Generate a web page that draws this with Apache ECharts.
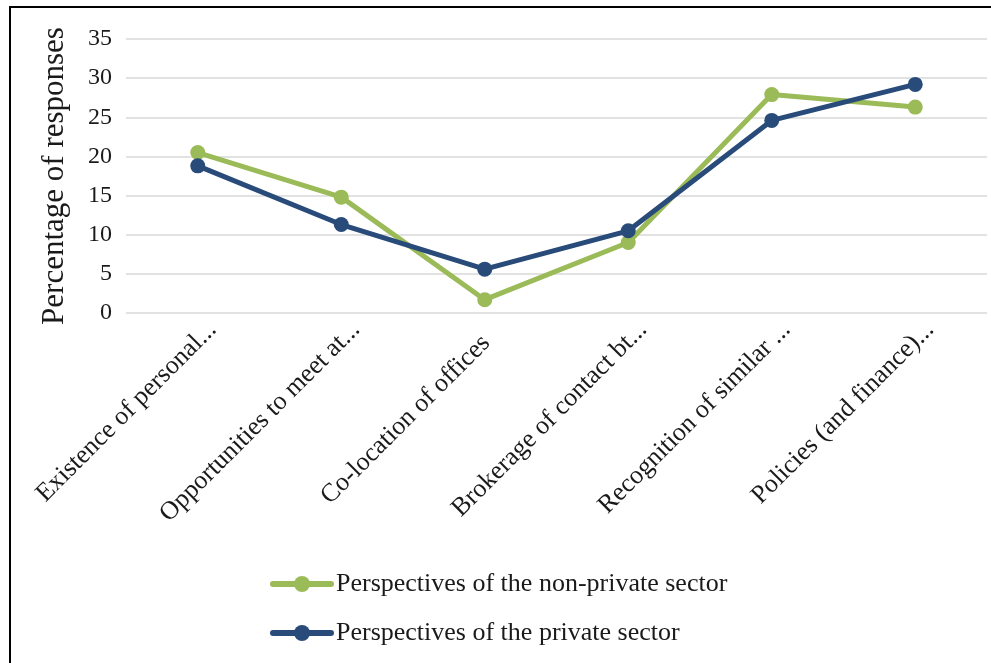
<!DOCTYPE html>
<html>
<head>
<meta charset="utf-8">
<script src="https://cdn.jsdelivr.net/npm/echarts@6/dist/echarts.min.js"></script>
<style>
html,body{margin:0;padding:0;background:#fff;}
#frame{position:absolute;left:9px;top:6px;width:1000px;height:700px;border-left:2px solid #000;border-top:2px solid #000;box-sizing:border-box;}
#chart{position:absolute;left:0;top:0;width:991px;height:663px;}
</style>
</head>
<body>
<div id="frame"></div>
<div id="chart"></div>
<script>
const categories = [
  "Existence of personal...",
  "Opportunities to meet at...",
  "Co-location of offices",
  "Brokerage of contact bt...",
  "Recognition of similar ...",
  "Policies (and finance)..."
];
const nonPrivate = [20.5, 14.8, 1.7, 9.0, 27.9, 26.3];
const privateSector = [18.8, 11.3, 5.6, 10.5, 24.6, 29.2];
const yTicks = { min: 0, max: 35, interval: 5 };
const seriesNames = ["Perspectives of the non-private sector", "Perspectives of the private sector"];

const font = "'Liberation Serif', 'Times New Roman', serif";
const chart = echarts.init(document.getElementById('chart'), null, { renderer: 'canvas' });
chart.setOption({
  backgroundColor: 'transparent',
  animation: false,
  grid: { left: 126, right: 4, top: 39, bottom: 350, containLabel: false },
  legend: {
    orient: 'vertical',
    left: 265,
    top: 564,
    itemWidth: 58,
    itemHeight: 20,
    itemGap: 19,
    lineStyle: { width: 6, cap: 'round' },
    textStyle: { fontFamily: font, fontSize: 26, color: '#1a1a1a', lineHeight: 30 },
    data: seriesNames
  },
  xAxis: {
    type: 'category',
    data: categories,
    boundaryGap: true,
    axisLine: { show: false },
    axisTick: { show: false },
    axisLabel: {
      rotate: 45, margin: -2, interval: 0,
      verticalAlign: 'top', lineHeight: 42,
      fontFamily: font, fontSize: 26, color: '#1a1a1a',
      formatter: function (v) { return /\.\.\.$/.test(v) ? v : v + '{pad|}'; },
      rich: { pad: { width: 19, lineHeight: 42 } }
    }
  },
  yAxis: {
    type: 'value',
    min: yTicks.min, max: yTicks.max, interval: yTicks.interval,
    name: 'Percentage of responses',
    nameLocation: 'middle',
    nameGap: 56,
    nameTextStyle: { fontFamily: font, fontSize: 31, color: '#1a1a1a' },
    axisLine: { show: false },
    axisTick: { show: false },
    axisLabel: { margin: 14, fontFamily: font, fontSize: 24, color: '#1a1a1a' },
    splitLine: { lineStyle: { color: '#d9d9d9', width: 1.5 } }
  },
  series: [
    {
      name: seriesNames[0], type: 'line', data: nonPrivate,
      symbol: 'circle', symbolSize: 15,
      lineStyle: { color: '#9bbb59', width: 5 },
      itemStyle: { color: '#9bbb59' }
    },
    {
      name: seriesNames[1], type: 'line', data: privateSector,
      symbol: 'circle', symbolSize: 15,
      lineStyle: { color: '#284b7a', width: 5 },
      itemStyle: { color: '#284b7a' }
    }
  ]
});
</script>
</body>
</html>
